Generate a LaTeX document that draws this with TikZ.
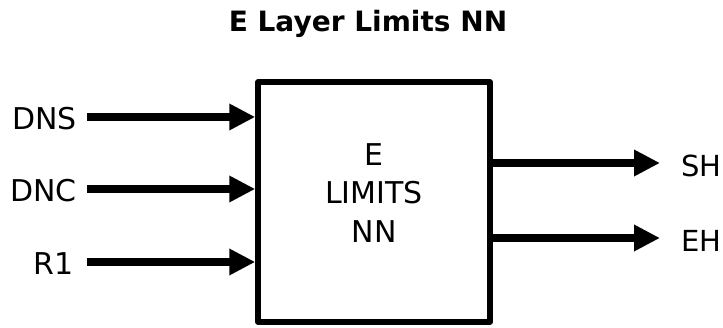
\documentclass[tikz,border=0pt]{standalone}
\usepackage{fontspec}
\setmainfont{DejaVu Sans}
\usetikzlibrary{arrows.meta,positioning}

\tikzset{
  flow/.style={line width=8pt,-{Triangle[length=26pt,width=25pt]}},
  lbl/.style={font=\fontsize{30}{37}\selectfont,inner sep=0pt},
  blockbox/.style={draw,line width=5.5pt,line join=round,minimum width=232pt,minimum height=240pt,inner sep=0pt},
}

\begin{document}
\begin{tikzpicture}[x=1pt,y=-1pt]
  \useasboundingbox (0,0) rectangle (723,328);
  % title
  \node[inner sep=0pt,anchor=base,font=\fontsize{28}{34}\selectfont\bfseries] (title) at (368,32) {E Layer Limits NN};
  % block
  \node[blockbox] (box) at (374,202) {};
  \node[lbl,align=center,font=\fontsize{30}{38.5}\selectfont] (boxtext) at (374,193) {E\\LIMITS\\NN};
  % inputs
  \coordinate (dnsin) at (87,117);
  \coordinate (dncin) at (87,189);
  \coordinate (rin) at (87,262);
  \node[lbl,anchor=base east] (dns) at (77,130) {DNS};
  \node[lbl,anchor=base east] (dnc) at (77,202) {DNC};
  \node[lbl,anchor=base east] (r1) at (74,275) {R1};
  \draw[flow] (dnsin) -- (box.west |- dnsin);
  \draw[flow] (dncin) -- (box.west |- dncin);
  \draw[flow] (rin) -- (box.west |- rin);
  % outputs
  \coordinate (shout) at (660,163);
  \coordinate (ehout) at (660,238);
  \node[lbl,anchor=base west,font=\fontsize{29}{36}\selectfont] (sh) at (681,177) {SH};
  \node[lbl,anchor=base west,font=\fontsize{29}{36}\selectfont] (eh) at (681,252) {EH};
  \draw[flow] (box.east |- shout) -- (shout);
  \draw[flow] (box.east |- ehout) -- (ehout);
\end{tikzpicture}
\end{document}
